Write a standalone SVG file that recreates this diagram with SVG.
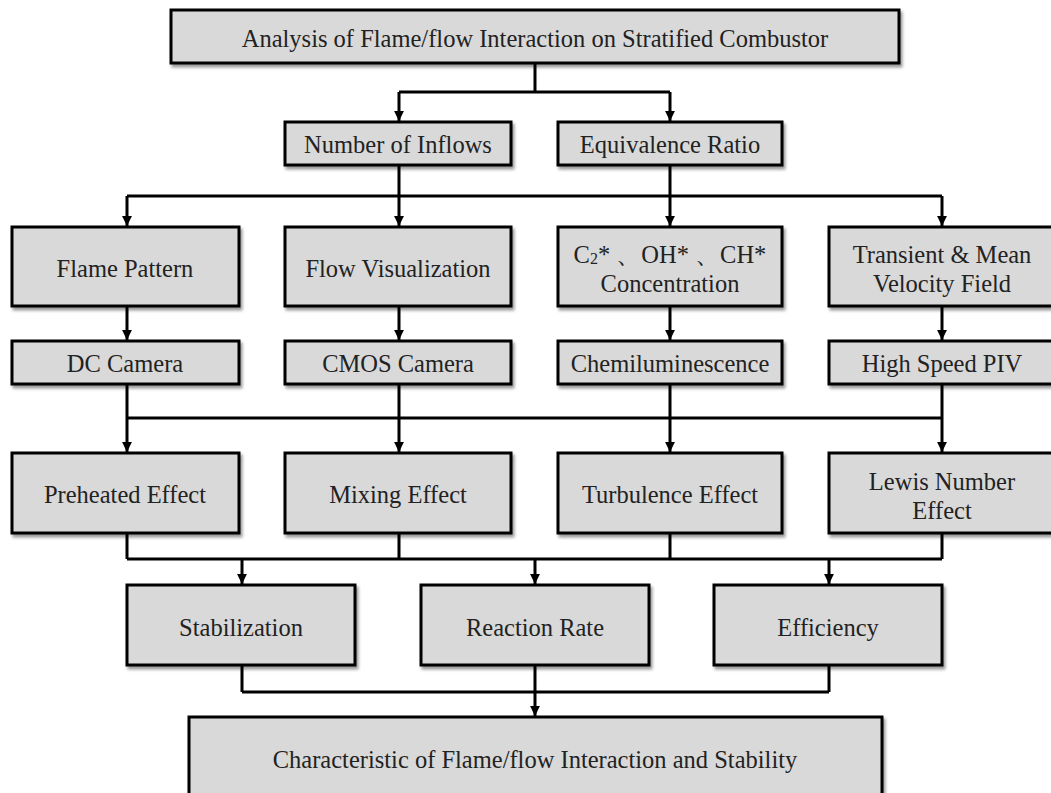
<svg xmlns="http://www.w3.org/2000/svg" width="1051" height="793" viewBox="0 0 1051 793">
<style>
.box{fill:#d9d9d9;stroke:#000;stroke-width:3;filter:url(#sh)}
.t{font-family:"Liberation Serif","Times New Roman",serif;font-size:24.5px;fill:#222;text-anchor:middle;dominant-baseline:central}
.ln{fill:none;stroke:#000;stroke-width:3}
.ar{fill:none;stroke:#000;stroke-width:3;marker-end:url(#ah)}
</style>
<defs>
<filter id="sh" x="-5%" y="-10%" width="115%" height="130%">
<feDropShadow dx="2" dy="3" stdDeviation="1.5" flood-color="#000" flood-opacity="0.4"/>
</filter>
<marker id="ah" viewBox="0 0 10 10" refX="10" refY="5" markerWidth="3.3" markerHeight="3.3" markerUnits="strokeWidth" orient="auto">
<path d="M0,0 L10,5 L0,10 Z" fill="#000"/>
</marker>
</defs>
<rect width="1051" height="793" fill="#fff"/>
<g id="connectors">
<path class="ln" d="M535,63 V92 M399,92 H670"/>
<path class="ar" d="M399,92 V121"/>
<path class="ar" d="M670,92 V121"/>
<path class="ln" d="M399,165 V196 M670,165 V196 M127,196 H942"/>
<path class="ar" d="M127,196 V226"/>
<path class="ar" d="M399,196 V226"/>
<path class="ar" d="M670,196 V226"/>
<path class="ar" d="M942,196 V226"/>
<path class="ar" d="M127,306 V340"/>
<path class="ar" d="M399,306 V340"/>
<path class="ar" d="M670,306 V340"/>
<path class="ar" d="M942,306 V340"/>
<path class="ln" d="M127,384 V418 M399,384 V418 M670,384 V418 M942,384 V418 M127,418 H942"/>
<path class="ar" d="M127,418 V452"/>
<path class="ar" d="M399,418 V452"/>
<path class="ar" d="M670,418 V452"/>
<path class="ar" d="M942,418 V452"/>
<path class="ln" d="M127,533 V559 M399,533 V559 M670,533 V559 M942,533 V559 M127,559 H942"/>
<path class="ar" d="M242,559 V584"/>
<path class="ar" d="M535,559 V584"/>
<path class="ar" d="M829,559 V584"/>
<path class="ln" d="M242,665 V692 M535,665 V692 M829,665 V692 M242,692 H829"/>
<path class="ar" d="M535,692 V716"/>
</g>
<g id="n-top"><rect class="box" x="171" y="10" width="728" height="53"/><text class="t" x="535" y="38">Analysis of Flame/flow Interaction on Stratified Combustor</text></g>
<g id="n-inflows"><rect class="box" x="285" y="122" width="226" height="43"/><text class="t" x="398" y="144">Number of Inflows</text></g>
<g id="n-ratio"><rect class="box" x="558" y="122" width="224" height="43"/><text class="t" x="670" y="144">Equivalence Ratio</text></g>
<g id="n-flame"><rect class="box" x="12" y="227" width="227" height="79"/><text class="t" x="125" y="268">Flame Pattern</text></g>
<g id="n-flowvis"><rect class="box" x="285" y="227" width="226" height="79"/><text class="t" x="398" y="268">Flow Visualization</text></g>
<g id="n-conc"><rect class="box" x="558" y="227" width="224" height="79"/><text class="t" x="670" y="254" font-size="23">C<tspan font-size="16" dy="4">2</tspan><tspan dy="-4">* 、OH* 、CH*</tspan></text><text class="t" x="670" y="283">Concentration</text></g>
<g id="n-velocity"><rect class="box" x="829" y="227" width="228" height="79"/><text class="t" x="942" y="254">Transient &amp; Mean</text><text class="t" x="942" y="283">Velocity Field</text></g>
<g id="n-dc"><rect class="box" x="12" y="341" width="227" height="43"/><text class="t" x="125" y="363">DC Camera</text></g>
<g id="n-cmos"><rect class="box" x="285" y="341" width="226" height="43"/><text class="t" x="398" y="363">CMOS Camera</text></g>
<g id="n-chemi"><rect class="box" x="558" y="341" width="224" height="43"/><text class="t" x="670" y="363">Chemiluminescence</text></g>
<g id="n-piv"><rect class="box" x="829" y="341" width="228" height="43"/><text class="t" x="942" y="363">High Speed PIV</text></g>
<g id="n-preheat"><rect class="box" x="12" y="453" width="227" height="80"/><text class="t" x="125" y="494">Preheated Effect</text></g>
<g id="n-mixing"><rect class="box" x="285" y="453" width="226" height="80"/><text class="t" x="398" y="494">Mixing Effect</text></g>
<g id="n-turb"><rect class="box" x="558" y="453" width="224" height="80"/><text class="t" x="670" y="494">Turbulence Effect</text></g>
<g id="n-lewis"><rect class="box" x="829" y="453" width="228" height="80"/><text class="t" x="942" y="481">Lewis Number</text><text class="t" x="942" y="510">Effect</text></g>
<g id="n-stab"><rect class="box" x="127" y="585" width="228" height="80"/><text class="t" x="241" y="627">Stabilization</text></g>
<g id="n-rate"><rect class="box" x="421" y="585" width="228" height="80"/><text class="t" x="535" y="627">Reaction Rate</text></g>
<g id="n-eff"><rect class="box" x="714" y="585" width="228" height="80"/><text class="t" x="828" y="627">Efficiency</text></g>
<g id="n-final"><rect class="box" x="189" y="717" width="693" height="90"/><text class="t" x="535" y="759">Characteristic of Flame/flow Interaction and Stability</text></g>
</svg>
